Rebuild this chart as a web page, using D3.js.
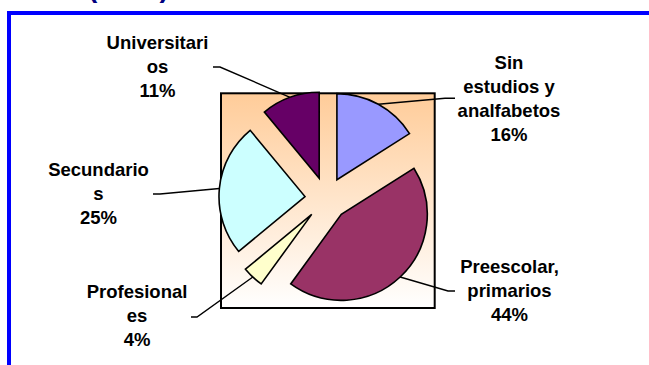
<!DOCTYPE html>
<html>
<head>
<meta charset="utf-8">
<script src="https://cdn.jsdelivr.net/npm/d3@7"></script>
<style>
  html, body { margin: 0; padding: 0; background: #fff; }
  svg { display: block; }
</style>
</head>
<body>
<svg id="chart" width="649" height="365"></svg>
<script>
// ---- data ----
const categories = ["Sin estudios y analfabetos", "Preescolar, primarios", "Profesionales", "Secundarios", "Universitarios"];
const values = [16, 44, 4, 25, 11];
const labelLines = [["Sin", "estudios y", "analfabetos"], ["Preescolar,", "primarios"], ["Profesional", "es"], ["Secundario", "s"], ["Universitari", "os"]];
const percentLabels = ["16%", "44%", "4%", "25%", "11%"];
const colors = ["#9999FF", "#993366", "#FFFFCC", "#CCFFFF", "#660066"];

// ---- layout (positions, not data) ----
const labelLayout = [
  { cx: 509, y0: 68.5, sx: 455, ex: 445, ly: 98.3 },
  { cx: 509.5, y0: 272.5, sx: 455, ex: 448, ly: 291 },
  { cx: 137, y0: 297.5, sx: 191, ex: 197, ly: 317 },
  { cx: 98.5, y0: 176, sx: 153, ex: 160, ly: 194 },
  { cx: 157.5, y0: 48.5, sx: 213, ex: 220, ly: 67 }
];
const lineH = 24;

const svg = d3.select("#chart");
const defs = svg.append("defs");
const grad = defs.append("linearGradient").attr("id", "bg").attr("x1", 0).attr("y1", 0).attr("x2", 0).attr("y2", 1);
grad.append("stop").attr("offset", "0%").attr("stop-color", "#FFCC99");
grad.append("stop").attr("offset", "100%").attr("stop-color", "#FFFFFF");

// partially visible title at the top
svg.append("text")
  .attr("x", 88).attr("y", -3.5)
  .attr("font-family", "Liberation Sans, Arial, sans-serif")
  .attr("font-weight", "bold").attr("font-size", 28)
  .attr("fill", "#000080")
  .text("(2001)");

// blue frame lines
svg.append("rect").attr("x", 7).attr("y", 11).attr("width", 642).attr("height", 4).attr("fill", "#0000FF");
svg.append("rect").attr("x", 7).attr("y", 11).attr("width", 4).attr("height", 354).attr("fill", "#0000FF");

// plot area
svg.append("rect")
  .attr("x", 221).attr("y", 93.3).attr("width", 213.7).attr("height", 214.7)
  .attr("fill", "url(#bg)").attr("stroke", "#000").attr("stroke-width", 2);

const cx = 326.5, cy = 198.6, R = 86, explode = 21.6;
const pie = d3.pie().sort(null).startAngle(0).endAngle(2 * Math.PI);
const arcs = pie(values);
const arc = d3.arc().innerRadius(0).outerRadius(R);

function dirOf(d) {
  const a = (d.startAngle + d.endAngle) / 2;
  return [Math.sin(a), -Math.cos(a)];
}

const g = svg.append("g");
g.selectAll("path.slice").data(arcs).enter().append("path")
  .attr("class", "slice")
  .attr("d", arc)
  .attr("transform", d => {
    const [dx, dy] = dirOf(d);
    return `translate(${cx + dx * explode},${cy + dy * explode})`;
  })
  .attr("fill", (d, i) => colors[i])
  .attr("stroke", "#000").attr("stroke-width", 1.6).attr("stroke-linejoin", "miter");

// leader lines
svg.selectAll("path.leader").data(arcs).enter().append("path")
  .attr("class", "leader")
  .attr("d", (d, i) => {
    const [dx, dy] = dirOf(d);
    const px = cx + dx * (explode + R), py = cy + dy * (explode + R);
    const L = labelLayout[i];
    return `M${L.sx},${L.ly}L${L.ex},${L.ly}L${px},${py}`;
  })
  .attr("fill", "none").attr("stroke", "#000").attr("stroke-width", 1.4);

// labels
const lbl = svg.selectAll("text.lbl").data(arcs).enter().append("text")
  .attr("class", "lbl")
  .attr("text-anchor", "middle")
  .attr("font-family", "Liberation Sans, Arial, sans-serif")
  .attr("font-weight", "bold").attr("font-size", 18.5)
  .attr("fill", "#000");
lbl.each(function(d, i) {
  const t = d3.select(this);
  const L = labelLayout[i];
  const lines = labelLines[i].concat([percentLabels[i]]);
  lines.forEach((s, k) => {
    t.append("tspan").attr("x", L.cx).attr("y", L.y0 + k * lineH).text(s);
  });
});
</script>
</body>
</html>
